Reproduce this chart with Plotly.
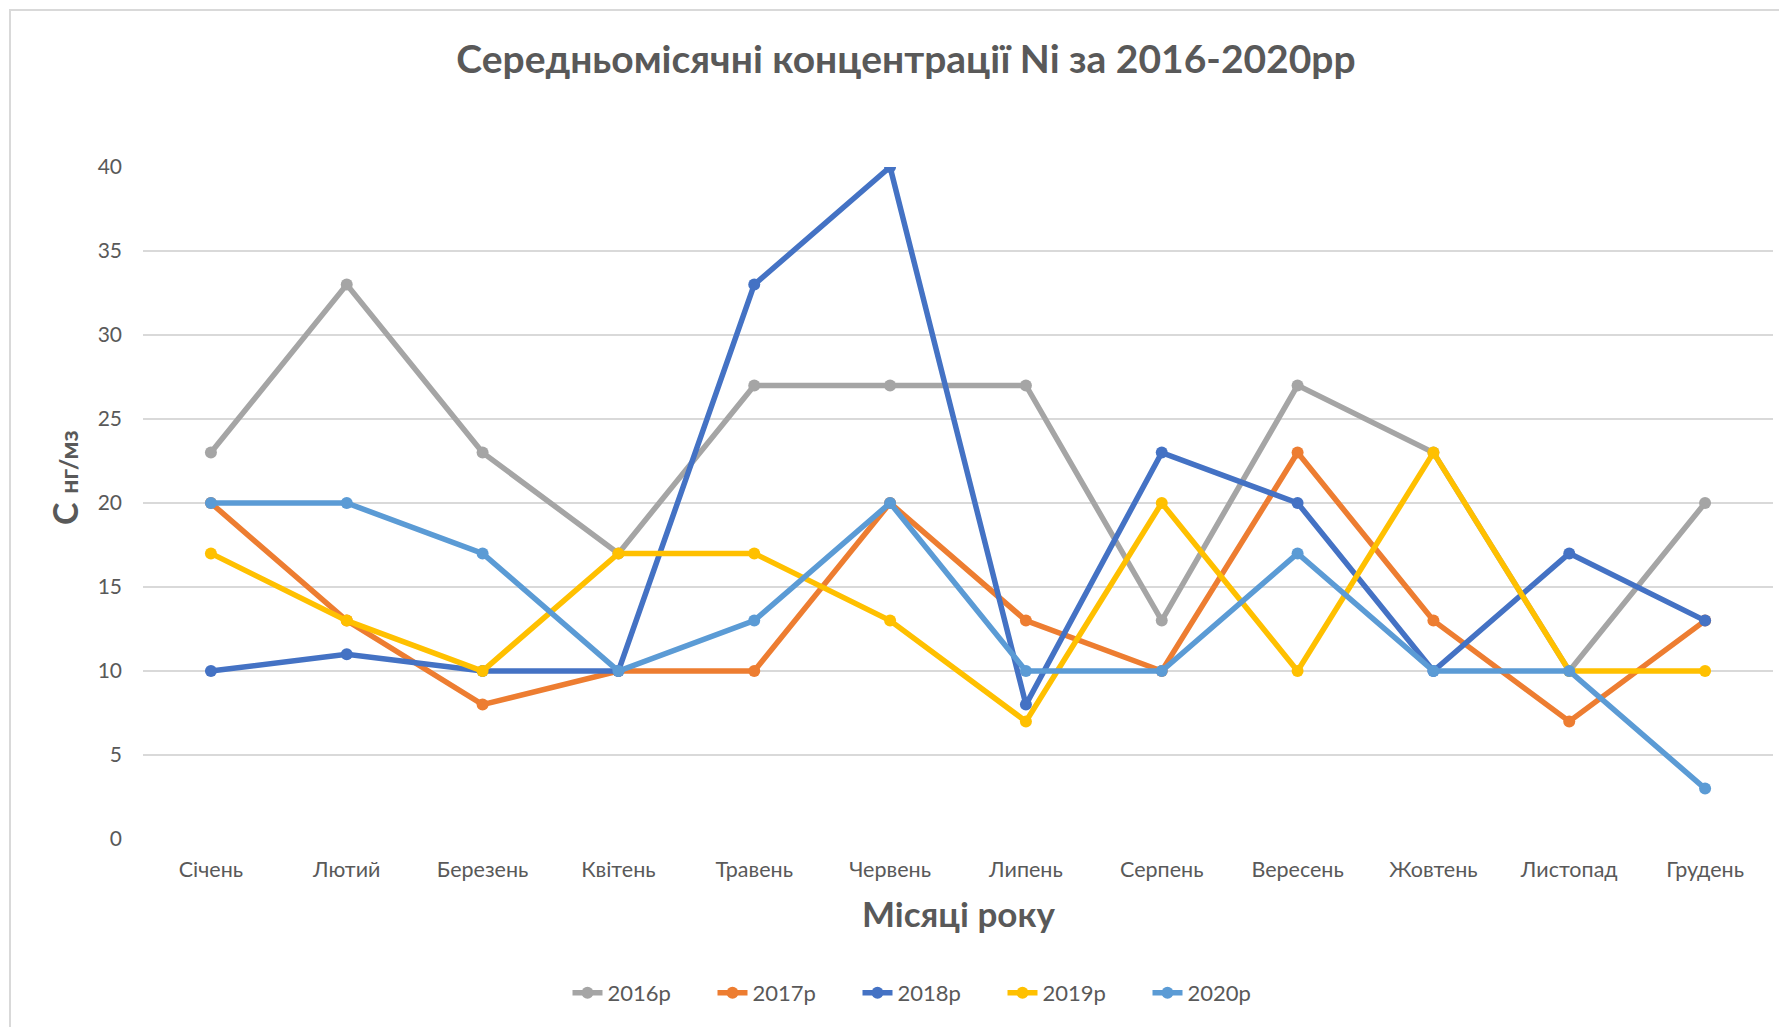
import plotly.graph_objects as go

months = ["Січень", "Лютий", "Березень", "Квітень", "Травень", "Червень",
          "Липень", "Серпень", "Вересень", "Жовтень", "Листопад", "Грудень"]
s2016 = [23, 33, 23, 17, 27, 27, 27, 13, 27, 23, 10, 20]
s2017 = [20, 13, 8, 10, 10, 20, 13, 10, 23, 13, 7, 13]
s2018 = [10, 11, 10, 10, 33, 40, 8, 23, 20, 10, 17, 13]
s2019 = [17, 13, 10, 17, 17, 13, 7, 20, 10, 23, 10, 10]
s2020 = [20, 20, 17, 10, 13, 20, 10, 10, 17, 10, 10, 3]
names = ["2016р", "2017р", "2018р", "2019р", "2020р"]
colors = ["#A5A5A5", "#ED7D31", "#4472C4", "#FFC000", "#5B9BD5"]

W, H = 1787, 1027
OFF = 8  # page body margin
L, T = 143 - OFF, 167 - OFF
pw, ph = 1630, 672
R = W - L - pw
B = H - T - ph

def px(x):
    return (x - OFF - L) / pw

def py(y):
    return (T + OFF + ph - y) / ph

fig = go.Figure()
for name, vals, col in zip(names, [s2016, s2017, s2018, s2019, s2020], colors):
    fig.add_trace(go.Scatter(
        x=months, y=vals, name=name, mode="lines+markers",
        line=dict(color=col, width=5.5),
        marker=dict(color=col, size=12, symbol="circle"),
    ))

font_main = "Lato, 'Open Sans', sans-serif"
fig.update_layout(
    width=W, height=H,
    margin=dict(l=L, r=R, t=T, b=B),
    paper_bgcolor="white", plot_bgcolor="white",
    font=dict(family=font_main, color="#595959"),
    title=dict(text="<b>Середньомісячні концентрації Ni за 2016-2020рр</b>",
               x=px(906), xanchor="center", xref="paper",
               y=1 - (59 - OFF) / H, yanchor="middle",
               font=dict(size=39, color="#595959", family=font_main)),
    xaxis=dict(
        type="category", showgrid=False, showline=False, zeroline=False,
        ticks="", tickfont=dict(size=21.5, color="#595959"),
        range=[-0.5, 11.5], ticklabelstandoff=15,
    ),
    yaxis=dict(
        range=[0, 40], dtick=5, showgrid=True, gridcolor="#D9D9D9", gridwidth=2,
        zeroline=False, showline=False, ticks="",
        tickfont=dict(size=21, color="#595959"), ticklabelstandoff=20,
    ),
    legend=dict(orientation="h", x=px(930), xanchor="center", y=py(993), yanchor="middle",
                font=dict(size=22, color="#595959"), entrywidth=100, entrywidthmode="pixels"),
    showlegend=True,
)
fig.add_annotation(text="<b>Місяці року</b>", xref="paper", yref="paper",
                   x=px(958), y=py(913), xanchor="center", yanchor="middle",
                   showarrow=False, font=dict(size=35, color="#595959"))
fig.add_annotation(text="<b>С</b> <b><span style='font-size:25px'>нг/мз</span></b>",
                   xref="paper", yref="paper", textangle=-90,
                   x=px(64), y=py(478), xanchor="center", yanchor="middle",
                   showarrow=False, font=dict(size=34, color="#595959"))
fig.add_shape(type="rect", xref="paper", yref="paper",
              x0=px(10), x1=px(1810), y0=py(10), y1=py(1050),
              line=dict(color="#D9D9D9", width=2), layer="below")
fig.write_html("out.html")
